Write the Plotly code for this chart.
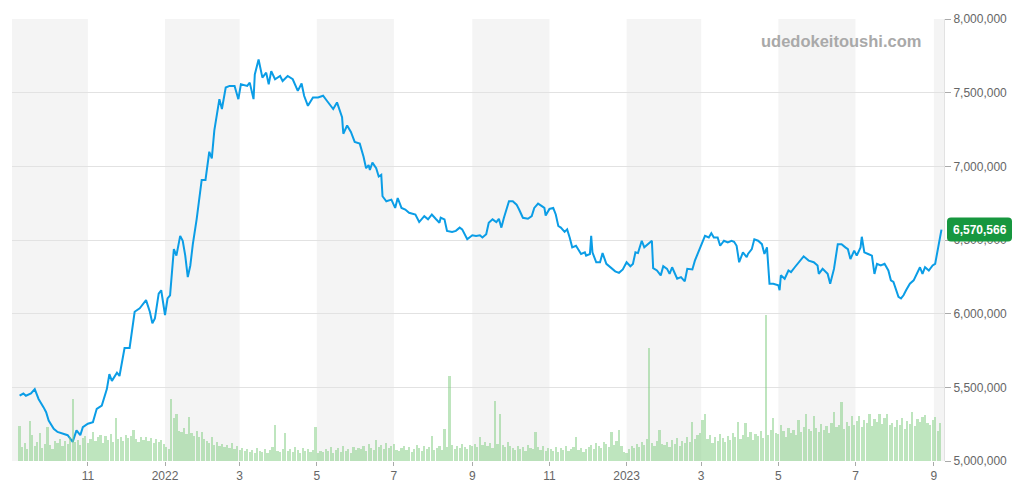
import pandas as pd
import plotly.graph_objects as go

# ---------------- data ----------------
price_dates = [
    "2021-09-08", "2021-09-11", "2021-09-13", "2021-09-17", "2021-09-20", "2021-09-23", "2021-09-27", "2021-09-29",
    "2021-10-01", "2021-10-05", "2021-10-08", "2021-10-12", "2021-10-16", "2021-10-20", "2021-10-23", "2021-10-26",
    "2021-10-28", "2021-11-01", "2021-11-05", "2021-11-08", "2021-11-12", "2021-11-16", "2021-11-18", "2021-11-20",
    "2021-11-24", "2021-11-26", "2021-11-30", "2021-12-04", "2021-12-08", "2021-12-12", "2021-12-14", "2021-12-17",
    "2021-12-20", "2021-12-22", "2021-12-24", "2021-12-27", "2021-12-29", "2022-01-01", "2022-01-03", "2022-01-05",
    "2022-01-08", "2022-01-10", "2022-01-13", "2022-01-15", "2022-01-17", "2022-01-19", "2022-01-21", "2022-01-23",
    "2022-01-26", "2022-01-30", "2022-02-02", "2022-02-05", "2022-02-07", "2022-02-09", "2022-02-13", "2022-02-15",
    "2022-02-18", "2022-02-21", "2022-02-25", "2022-02-28", "2022-03-02", "2022-03-07", "2022-03-09", "2022-03-12",
    "2022-03-13", "2022-03-16", "2022-03-19", "2022-03-22", "2022-03-24", "2022-03-26", "2022-03-29", "2022-04-02",
    "2022-04-04", "2022-04-08", "2022-04-12", "2022-04-16", "2022-04-19", "2022-04-21", "2022-04-24", "2022-04-28",
    "2022-05-02", "2022-05-06", "2022-05-09", "2022-05-11", "2022-05-14", "2022-05-17", "2022-05-19", "2022-05-21",
    "2022-05-22", "2022-05-25", "2022-05-28", "2022-05-31", "2022-06-04", "2022-06-07", "2022-06-09", "2022-06-11",
    "2022-06-12", "2022-06-14", "2022-06-17", "2022-06-19", "2022-06-21", "2022-06-22", "2022-06-25", "2022-06-29",
    "2022-07-02", "2022-07-04", "2022-07-07", "2022-07-10", "2022-07-13", "2022-07-18", "2022-07-21", "2022-07-25",
    "2022-07-28", "2022-07-31", "2022-08-03", "2022-08-06", "2022-08-07", "2022-08-10", "2022-08-12", "2022-08-16",
    "2022-08-19", "2022-08-22", "2022-08-24", "2022-08-28", "2022-09-01", "2022-09-04", "2022-09-07", "2022-09-09",
    "2022-09-12", "2022-09-14", "2022-09-17", "2022-09-20", "2022-09-22", "2022-09-24", "2022-09-26", "2022-09-30",
    "2022-10-03", "2022-10-06", "2022-10-08", "2022-10-11", "2022-10-15", "2022-10-18", "2022-10-20", "2022-10-23",
    "2022-10-26", "2022-10-28", "2022-10-29", "2022-11-01", "2022-11-04", "2022-11-06", "2022-11-08", "2022-11-10",
    "2022-11-13", "2022-11-15", "2022-11-17", "2022-11-19", "2022-11-22", "2022-11-26", "2022-11-29", "2022-11-30",
    "2022-12-03", "2022-12-04", "2022-12-05", "2022-12-08", "2022-12-11", "2022-12-13", "2022-12-16", "2022-12-19",
    "2022-12-23", "2022-12-26", "2022-12-29", "2023-01-01", "2023-01-04", "2023-01-06", "2023-01-08", "2023-01-10",
    "2023-01-13", "2023-01-15", "2023-01-18", "2023-01-21", "2023-01-22", "2023-01-25", "2023-01-28", "2023-01-30",
    "2023-02-02", "2023-02-04", "2023-02-06", "2023-02-10", "2023-02-13", "2023-02-16", "2023-02-18", "2023-02-22",
    "2023-02-24", "2023-02-28", "2023-03-02", "2023-03-04", "2023-03-07", "2023-03-09", "2023-03-11", "2023-03-14",
    "2023-03-16", "2023-03-19", "2023-03-22", "2023-03-25", "2023-03-27", "2023-03-29", "2023-03-31", "2023-04-03",
    "2023-04-06", "2023-04-07", "2023-04-10", "2023-04-12", "2023-04-15", "2023-04-18", "2023-04-20", "2023-04-22",
    "2023-04-24", "2023-04-27", "2023-05-01", "2023-05-02", "2023-05-03", "2023-05-06", "2023-05-09", "2023-05-11",
    "2023-05-14", "2023-05-18", "2023-05-21", "2023-05-25", "2023-05-29", "2023-06-01", "2023-06-02", "2023-06-05",
    "2023-06-09", "2023-06-11", "2023-06-14", "2023-06-17", "2023-06-20", "2023-06-23", "2023-06-25", "2023-06-27",
    "2023-06-30", "2023-07-02", "2023-07-05", "2023-07-06", "2023-07-08", "2023-07-11", "2023-07-14", "2023-07-16",
    "2023-07-18", "2023-07-21", "2023-07-24", "2023-07-27", "2023-07-29", "2023-07-31", "2023-08-02", "2023-08-04",
    "2023-08-06", "2023-08-08", "2023-08-10", "2023-08-13", "2023-08-16", "2023-08-18", "2023-08-21", "2023-08-23",
    "2023-08-25", "2023-08-28", "2023-08-31", "2023-09-02", "2023-09-05", "2023-09-07",
]
price_values = [
    5443000, 5458000, 5443000, 5458000, 5488000, 5421000, 5364000, 5331000,
    5275000, 5219000, 5197000, 5186000, 5175000, 5130000, 5208000, 5175000,
    5230000, 5253000, 5264000, 5354000, 5376000, 5488000, 5589000, 5544000,
    5599000, 5577000, 5767000, 5767000, 6013000, 6036000, 6058000, 6092000,
    6013000, 5935000, 5968000, 6136000, 6159000, 5991000, 6103000, 6125000,
    6438000, 6394000, 6528000, 6495000, 6394000, 6248000, 6327000, 6472000,
    6640000, 6908000, 6908000, 7099000, 7054000, 7244000, 7456000, 7389000,
    7535000, 7546000, 7546000, 7456000, 7557000, 7546000, 7568000, 7456000,
    7624000, 7725000, 7602000, 7636000, 7557000, 7646000, 7591000, 7613000,
    7579000, 7613000, 7591000, 7512000, 7562000, 7479000, 7411000, 7468000,
    7468000, 7479000, 7445000, 7423000, 7389000, 7434000, 7378000, 7334000,
    7221000, 7277000, 7233000, 7166000, 7154000, 7065000, 6987000, 7009000,
    6975000, 7025000, 6987000, 6931000, 6942000, 6797000, 6763000, 6774000,
    6718000, 6785000, 6718000, 6707000, 6685000, 6673000, 6622000, 6662000,
    6640000, 6673000, 6644000, 6617000, 6651000, 6640000, 6562000, 6555000,
    6562000, 6584000, 6572000, 6505000, 6532000, 6528000, 6532000, 6517000,
    6539000, 6617000, 6640000, 6622000, 6644000, 6584000, 6651000, 6763000,
    6763000, 6740000, 6707000, 6651000, 6644000, 6662000, 6718000, 6747000,
    6730000, 6718000, 6666000, 6711000, 6718000, 6673000, 6595000, 6584000,
    6555000, 6572000, 6517000, 6450000, 6461000, 6405000, 6416000, 6394000,
    6405000, 6528000, 6416000, 6349000, 6349000, 6411000, 6338000, 6315000,
    6287000, 6277000, 6300000, 6349000, 6322000, 6338000, 6416000, 6411000,
    6495000, 6450000, 6472000, 6495000, 6309000, 6293000, 6260000, 6322000,
    6304000, 6270000, 6315000, 6237000, 6248000, 6219000, 6304000, 6300000,
    6360000, 6438000, 6488000, 6528000, 6517000, 6546000, 6517000, 6517000,
    6461000, 6495000, 6483000, 6495000, 6488000, 6461000, 6349000, 6416000,
    6383000, 6405000, 6438000, 6505000, 6495000, 6472000, 6405000, 6450000,
    6203000, 6203000, 6193000, 6159000, 6260000, 6237000, 6293000, 6282000,
    6315000, 6360000, 6389000, 6360000, 6349000, 6327000, 6270000, 6304000,
    6270000, 6203000, 6304000, 6472000, 6472000, 6450000, 6438000, 6371000,
    6428000, 6394000, 6450000, 6522000, 6416000, 6405000, 6394000, 6270000,
    6338000, 6327000, 6338000, 6293000, 6226000, 6215000, 6159000, 6114000,
    6103000, 6125000, 6159000, 6203000, 6226000, 6260000, 6315000, 6270000,
    6315000, 6293000, 6327000, 6338000, 6472000, 6570566,
]

# volume: one bar every 2 days starting at volume_start
volume_start = "2021-09-08"
volume_values = [
    35, 14, 18, 12, 40, 26, 15, 19, 28, 13, 17, 34, 16, 12, 20,
    18, 22, 15, 20, 17, 24, 63, 19, 21, 16, 23, 25, 18, 22, 29,
    20, 24, 26, 18, 25, 21, 27, 19, 43, 22, 24, 20, 26, 23, 25,
    31, 22, 19, 24, 21, 24, 20, 23, 18, 22, 19, 21, 17, 14, 12,
    63, 43, 48, 30, 29, 33, 27, 44, 28, 25, 30, 24, 29, 22, 20,
    18, 24, 16, 19, 15, 17, 14, 16, 13, 18, 12, 15, 11, 13, 10,
    12, 9, 11, 8, 13, 10, 9, 12, 8, 11, 14, 36, 10, 9, 12,
    28, 10, 12, 9, 14, 11, 8, 13, 10, 12, 9, 11, 34, 8, 10,
    9, 12, 10, 14, 8, 11, 13, 9, 15, 10, 12, 8, 14, 11, 13,
    12, 15, 10, 17, 13, 11, 21, 14, 16, 12, 18, 13, 15, 17, 11,
    10, 13, 15, 11, 14, 9, 12, 16, 13, 10, 15, 12, 14, 25, 11,
    13, 15, 11, 32, 14, 86, 16, 12, 15, 13, 17, 14, 12, 16, 15,
    17, 14, 24, 16, 19, 15, 18, 13, 61, 17, 48, 16, 14, 19, 15,
    13, 11, 15, 12, 14, 10, 16, 13, 12, 29, 14, 11, 15, 10, 13,
    12, 10, 14, 9, 13, 11, 15, 10, 12, 14, 24, 11, 13, 9, 12,
    14, 16, 12, 18, 15, 13, 19, 17, 14, 29, 16, 20, 31, 15, 9,
    8, 12, 15, 13, 17, 14, 19, 16, 22, 114, 18, 15, 20, 31, 17,
    16, 19, 14, 21, 17, 23, 15, 20, 18, 24, 19, 39, 22, 26, 28,
    41, 48, 22, 26, 18, 24, 20, 27, 23, 19, 25, 21, 28, 24, 39,
    22, 26, 38, 24, 29, 21, 27, 25, 30, 23, 148, 26, 31, 43, 28,
    27, 36, 30, 24, 33, 28, 31, 26, 41, 29, 34, 48, 32, 30, 46,
    33, 29, 37, 31, 35, 28, 38, 50, 34, 36, 60, 32, 39, 35, 46,
    36, 40, 46, 34, 41, 38, 48, 35, 42, 39, 48, 37, 43, 48, 36,
    38, 34, 41, 36, 43, 32, 40, 37, 50, 35, 42, 39, 44, 47, 38,
    36, 41, 44, 30, 38,
]

tick_dates = ["2021-11-01", "2022-01-01", "2022-03-01", "2022-05-01", "2022-07-01", "2022-09-01",
              "2022-11-01", "2023-01-01", "2023-03-01", "2023-05-01", "2023-07-01", "2023-09-01"]
tick_labels = ["11", "2022", "3", "5", "7", "9", "11", "2023", "3", "5", "7", "9"]

band_starts = ["2021-09-01", "2022-01-01", "2022-05-01", "2022-09-01", "2023-01-01", "2023-05-01", "2023-09-01"]
band_ends = ["2021-11-01", "2022-03-01", "2022-07-01", "2022-11-01", "2023-03-01", "2023-07-01", "2023-10-01"]

y_tick_vals = [5000000, 5500000, 6000000, 6500000, 7000000, 7500000, 8000000]

x_range = ["2021-09-02", "2023-09-09"]
watermark = "udedokeitoushi.com"

# ---------------- figure ----------------
vol_dates = pd.date_range(volume_start, periods=len(volume_values), freq="2D")
last_value = price_values[-1]

fig = go.Figure()
fig.add_trace(go.Bar(
    x=vol_dates, y=volume_values, yaxis="y2",
    marker=dict(color="rgba(125,203,125,0.5)", line=dict(width=0)),
    width=1.75 * 86400000, hoverinfo="skip", showlegend=False,
))
fig.add_trace(go.Scatter(
    x=pd.to_datetime(price_dates), y=price_values, mode="lines",
    line=dict(color="#0b9de6", width=2), showlegend=False,
))

shapes = []
for s, e in zip(band_starts, band_ends):
    shapes.append(dict(type="rect", xref="x", yref="paper", x0=s, x1=e, y0=0, y1=1,
                       fillcolor="#f4f4f4", line=dict(width=0), layer="below"))
# rounded price label box
shapes.append(dict(
    type="path", xref="paper", yref="y", xsizemode="pixel", ysizemode="pixel",
    xanchor=1, yanchor=last_value,
    path="M 7,-12 H 64 Q 68,-12 68,-8 V 8 Q 68,12 64,12 H 7 Q 3,12 3,8 V -8 Q 3,-12 7,-12 Z",
    fillcolor="#17973f", line=dict(width=0), layer="above",
))

fig.update_layout(
    width=1021, height=496,
    margin=dict(l=12, r=77, t=14, b=35),
    plot_bgcolor="white", paper_bgcolor="white",
    bargap=0,
    font=dict(family="Liberation Sans, Arial, sans-serif", size=12, color="#666"),
    shapes=shapes,
    xaxis=dict(
        type="date", range=x_range, showgrid=False, zeroline=False,
        tickvals=tick_dates, ticktext=tick_labels,
        ticks="outside", ticklen=4, tickcolor="#aaa",
        showline=False, tickfont=dict(size=12, color="#666"),
    ),
    yaxis=dict(
        side="right", range=[5000000, 8000000], tickvals=y_tick_vals,
        tickformat=",d", showgrid=True, gridcolor="#e2e2e2", gridwidth=1,
        zeroline=False, ticks="outside", ticklen=6, tickcolor="#aaa",
        showline=True, linecolor="#e2e2e2", mirror=False,
        tickfont=dict(size=12, color="#666"),
    ),
    yaxis2=dict(overlaying="y", range=[0, 447], visible=False, showgrid=False),
    annotations=[
        dict(text=watermark, xref="paper", yref="paper", x=0.978, y=0.951,
             xanchor="right", yanchor="middle", showarrow=False,
             font=dict(size=16.5, color="#a9a9a9", family="Liberation Sans, Arial, sans-serif", weight="bold")),
        dict(text=f"{last_value:,}", xref="paper", yref="y", x=1, y=last_value,
             xanchor="center", yanchor="middle", xshift=35.5, showarrow=False,
             font=dict(size=12, color="white", family="Liberation Sans, Arial, sans-serif", weight="bold")),
    ],
)

fig.write_html("out.html")
